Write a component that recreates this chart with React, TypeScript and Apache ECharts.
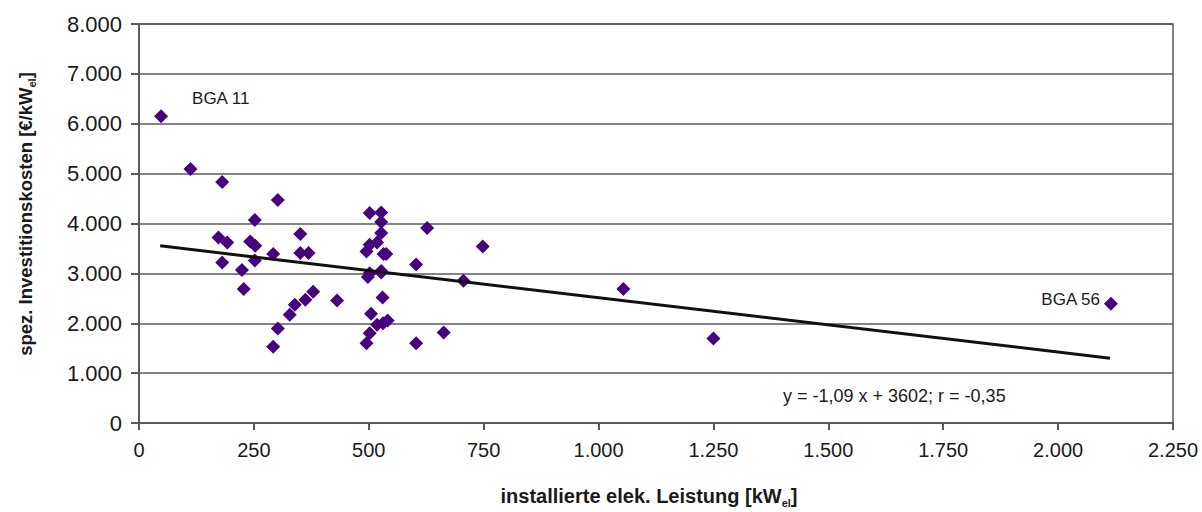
import React, { useEffect, useRef } from "react";
import * as echarts from "echarts";

// installed electric capacity [kW_el]
const capacity: number[] = [
  48, 112, 181, 302, 252, 173, 192, 242, 253, 351, 292, 351, 369, 181, 252, 224, 228, 379,
  362, 339, 328, 431, 302, 292, 502, 527, 527, 527, 518, 502, 495, 532, 538, 627, 748, 603,
  502, 498, 527, 527, 706, 530, 505, 518, 531, 541, 502, 495, 603, 663, 1054, 1250, 2115,
];
// specific investment costs [€/kW_el]
const cost: number[] = [
  6150, 5095, 4830, 4470, 4070, 3720, 3620, 3640, 3555, 3790, 3390, 3410, 3410, 3220, 3260, 3070, 2685, 2630,
  2470, 2370, 2170, 2455, 1895, 1530, 4210, 4220, 4030, 3810, 3620, 3575, 3440, 3390, 3390, 3910, 3540, 3180,
  3005, 2925, 3050, 3020, 2850, 2515, 2190, 1970, 2000, 2055, 1800, 1600, 1600, 1815, 2685, 1695, 2390,
];
// labelled plants (index into the arrays above)
const labelIndex: number[] = [0, 52];
const labelText: string[] = ["BGA 11", "BGA 56"];

// regression
const slope = -1.09;
const intercept = 3602;
const fitRange: number[] = [46, 2113];
const equationText = "y = -1,09 x + 3602; r = -0,35";

const yTicks = { min: 0, max: 8000, interval: 1000 };
const xTicks = { min: 0, max: 2250, interval: 250 };

const FONT = "Liberation Sans, Arial, Helvetica, sans-serif";
const TXT = "#1a1a1a";
const MARK = "#48007f";

function fmt(v: number): string {
  if (v < 1000) return String(v);
  const th = Math.floor(v / 1000);
  const r = v % 1000;
  return th + "." + String(r).padStart(3, "0");
}

export default function App() {
  const ref = useRef<HTMLDivElement>(null);
  useEffect(() => {
    if (!ref.current) return;
    const chart = echarts.init(ref.current, undefined, { renderer: "svg" });

    const scatterData = capacity.map((x, i) => {
      const li = labelIndex.indexOf(i);
      const item: any = { value: [x, cost[i]] };
      if (li === 0) {
        item.label = {
          show: true,
          formatter: labelText[li],
          position: "right",
          distance: 0,
          offset: [24, -18],
          color: TXT,
          opacity: 1,
          fontFamily: FONT,
          fontSize: 17,
        };
      } else if (li === 1) {
        item.label = {
          show: true,
          formatter: labelText[li],
          position: "left",
          distance: 4,
          offset: [0, -4],
          color: TXT,
          opacity: 1,
          fontFamily: FONT,
          fontSize: 17,
        };
      }
      return item;
    });

    const fitData = fitRange.map((x) => [x, slope * x + intercept]);

    const axisLine = { show: true, lineStyle: { color: "#5a5a5a", width: 2 } };

    chart.setOption({
      animation: false,
      backgroundColor: "#ffffff",
      grid: {
        left: 139,
        right: 29,
        top: 24,
        bottom: 89,
        containLabel: false,
        outerBoundsMode: "none",
        show: true,
        borderColor: "#5a5a5a",
        borderWidth: 1.5,
      },
      xAxis: {
        type: "value",
        min: xTicks.min,
        max: xTicks.max,
        interval: xTicks.interval,
        axisLine,
        axisTick: { show: true, length: 7, inside: false, lineStyle: { color: "#5a5a5a", width: 2 } },
        splitLine: { show: false },
        axisLabel: {
          color: TXT,
          fontFamily: FONT,
          fontSize: 20,
          margin: 17,
          formatter: (v: number) => fmt(v),
        },
      },
      yAxis: {
        type: "value",
        min: yTicks.min,
        max: yTicks.max,
        interval: yTicks.interval,
        axisLine,
        axisTick: { show: true, length: 8, inside: false, lineStyle: { color: "#5a5a5a", width: 2 } },
        splitLine: { show: true, lineStyle: { color: "#5a5a5a", width: 1.5 } },
        axisLabel: {
          color: TXT,
          fontFamily: FONT,
          fontSize: 22,
          margin: 17,
          formatter: (v: number) => fmt(v),
        },
      },
      graphic: [
        {
          type: "text",
          x: 25,
          y: 214,
          rotation: Math.PI / 2,
          style: {
            text: "{b|spez. Investitionskosten [€/kW}{s|el}{b|]}",
            align: "center",
            verticalAlign: "middle",
            fill: TXT,
            rich: {
              b: { fontFamily: FONT, fontSize: 18.5, fontWeight: "bold", fill: TXT, lineHeight: 24 },
              s: { fontFamily: FONT, fontSize: 11, fontWeight: "bold", fill: TXT, verticalAlign: "bottom", lineHeight: 14 },
            },
          },
        },
        {
          type: "text",
          x: 649,
          y: 496,
          style: {
            text: "{b|installierte elek. Leistung [kW}{s|el}{b|]}",
            align: "center",
            verticalAlign: "middle",
            fill: TXT,
            rich: {
              b: { fontFamily: FONT, fontSize: 20, fontWeight: "bold", fill: TXT, lineHeight: 24 },
              s: { fontFamily: FONT, fontSize: 11, fontWeight: "bold", fill: TXT, verticalAlign: "bottom", lineHeight: 14 },
            },
          },
        },
        {
          type: "text",
          left: 783,
          top: 387,
          style: {
            text: equationText,
            fill: TXT,
            font: `18px ${FONT}`,
          },
        },
      ],
      series: [
        {
          type: "scatter",
          data: scatterData,
          symbol: "diamond",
          symbolSize: 14,
          itemStyle: { color: MARK, opacity: 1 },
          z: 2,
        },
        {
          type: "line",
          data: fitData,
          symbol: "none",
          lineStyle: { color: "#111111", width: 3 },
          z: 3,
        },
      ],
    });
    return () => chart.dispose();
  }, []);
  return <div ref={ref} style={{ position: "fixed", left: 0, top: 0, width: 1202, height: 512 }} />;
}
